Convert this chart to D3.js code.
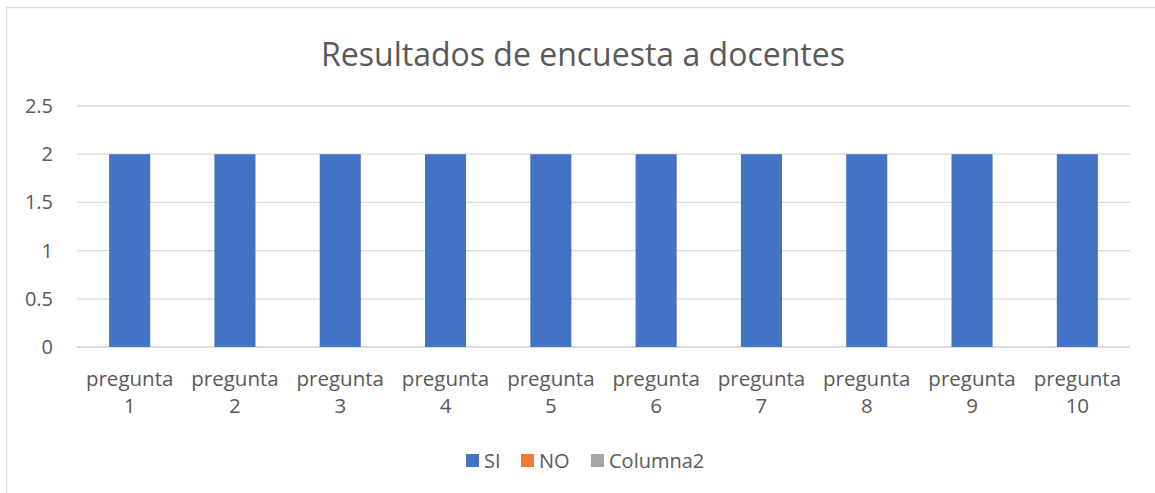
<!DOCTYPE html>
<html>
<head>
<meta charset="utf-8">
<script src="https://cdn.jsdelivr.net/npm/d3@7"></script>
<style>
  body { margin: 0; background: #fff; }
  text { font-family: "Open Sans", "Noto Sans", sans-serif; fill: #595959; }
</style>
</head>
<body>
<div id="chart"></div>
<script>
var categories = ['pregunta 1', 'pregunta 2', 'pregunta 3', 'pregunta 4', 'pregunta 5',
                  'pregunta 6', 'pregunta 7', 'pregunta 8', 'pregunta 9', 'pregunta 10'];
var seriesNames = ['SI', 'NO', 'Columna2'];
var siValues = [2, 2, 2, 2, 2, 2, 2, 2, 2, 2];
var yTicks = [0, 0.5, 1, 1.5, 2, 2.5];
var colors = ['#4472C4', '#ED7D31', '#A5A5A5'];

var width = 1155, height = 493;
var margin = { top: 106, right: 25, bottom: 146, left: 77 };
var plotW = width - margin.left - margin.right,
    plotH = height - margin.top - margin.bottom;

var svg = d3.select('#chart').append('svg')
    .attr('width', width)
    .attr('height', height);

// chart border
svg.append('rect')
    .attr('x', 6.5).attr('y', 7.5)
    .attr('width', width + 10).attr('height', height + 10)
    .attr('fill', 'none')
    .attr('stroke', '#d9d9d9')
    .attr('stroke-width', 1.5);

svg.append('text')
    .attr('x', 583).attr('y', 66)
    .attr('text-anchor', 'middle')
    .style('font-size', '32px')
    .text('Resultados de encuesta a docentes');

var g = svg.append('g')
    .attr('transform', 'translate(' + margin.left + ',' + margin.top + ')');

var x = d3.scaleBand()
    .domain(categories)
    .range([0, plotW])
    .paddingInner(0.61)
    .paddingOuter(0.305);

var y = d3.scaleLinear()
    .domain([0, 2.5])
    .range([plotH, 0]);

// gridlines
g.selectAll('.grid')
    .data(yTicks)
    .enter()
    .append('line')
    .attr('class', 'grid')
    .attr('x1', 0).attr('x2', plotW)
    .attr('y1', function (d) { return y(d); })
    .attr('y2', function (d) { return y(d); })
    .attr('stroke', function (d) { return d === 0 ? '#d0d0d0' : '#d9d9d9'; })
    .attr('stroke-width', 1.3);

var yAxis = d3.axisLeft(y)
    .tickValues(yTicks)
    .tickSize(0)
    .tickPadding(24)
    .tickFormat(function (d) { return String(d); });

g.append('g')
    .call(yAxis)
    .call(function (sel) {
      sel.select('.domain').remove();
      sel.selectAll('text').style('font-size', '20px').attr('fill', '#595959');
    });

g.selectAll('.bar')
    .data(siValues)
    .enter()
    .append('rect')
    .attr('class', 'bar')
    .attr('x', function (d, i) { return x(categories[i]); })
    .attr('y', function (d) { return y(d); })
    .attr('width', x.bandwidth())
    .attr('height', function (d) { return y(0) - y(d); })
    .attr('fill', colors[0]);

// x labels, two lines
var xl = g.selectAll('.xlabel')
    .data(categories)
    .enter()
    .append('text')
    .attr('class', 'xlabel')
    .attr('text-anchor', 'middle')
    .style('font-size', '20.5px')
    .attr('transform', function (d) {
      return 'translate(' + (x(d) + x.bandwidth() / 2) + ',' + (plotH + 39) + ')';
    });
xl.append('tspan').attr('x', 0).attr('y', 0).text(function (d) { return d.split(' ')[0]; });
xl.append('tspan').attr('x', 0).attr('y', 27).text(function (d) { return d.split(' ')[1]; });

// legend
var legendX = [466, 521, 591];
var legend = svg.selectAll('.legend')
    .data(seriesNames)
    .enter()
    .append('g')
    .attr('class', 'legend')
    .attr('transform', function (d, i) { return 'translate(' + legendX[i] + ',454)'; });
legend.append('rect')
    .attr('width', 13).attr('height', 13)
    .attr('fill', function (d, i) { return colors[i]; });
legend.append('text')
    .attr('x', 18).attr('y', 14)
    .style('font-size', '20px')
    .text(function (d) { return d; });
</script>
</body>
</html>
